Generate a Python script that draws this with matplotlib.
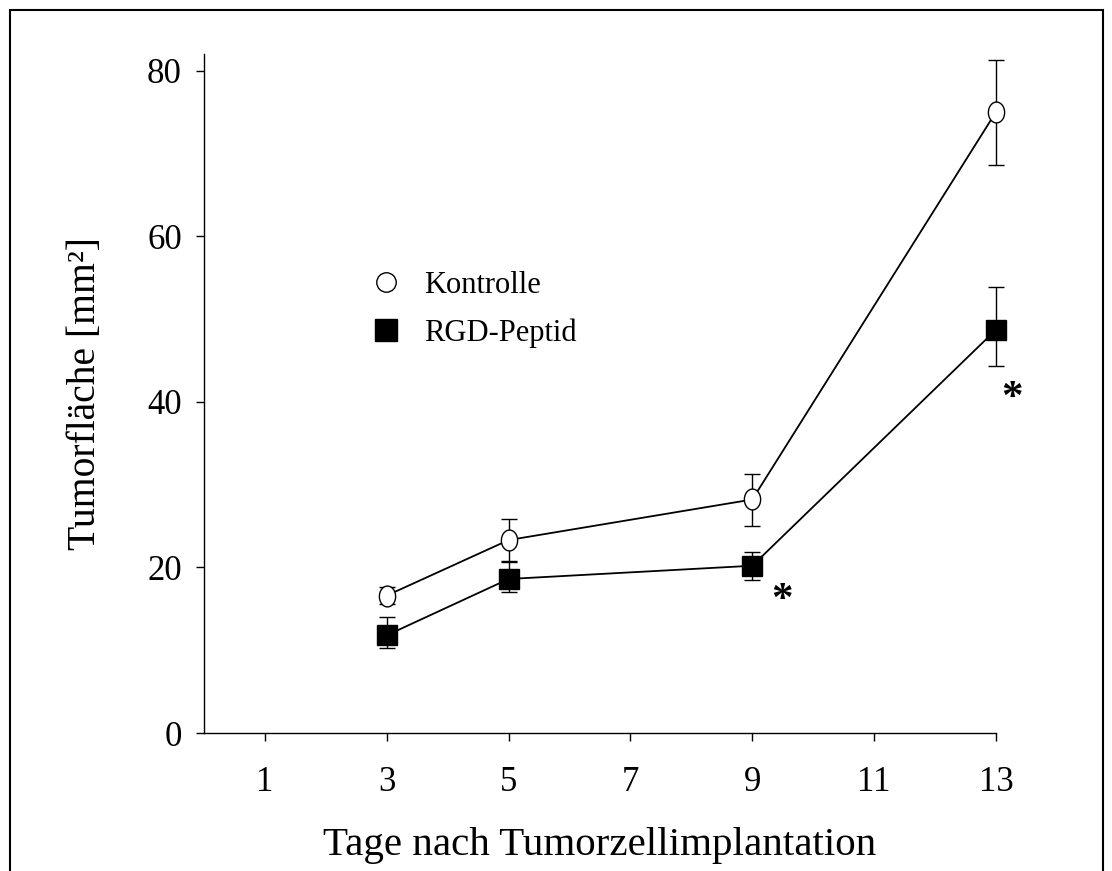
import numpy as np
import matplotlib
matplotlib.use("Agg")
import matplotlib.pyplot as plt
from matplotlib.lines import Line2D
from matplotlib.patches import Rectangle
from matplotlib.path import Path

plt.rcParams['font.family'] = ['Liberation Serif', 'DejaVu Serif']

# days after implantation
days = [3, 5, 9, 13]

# Kontrolle: mean and error bars (lower / upper)
kontrolle = [16.6, 23.3, 28.2, 75.0]
kontrolle_err_lo = [1.0, 2.5, 3.2, 6.4]
kontrolle_err_hi = [1.0, 2.6, 3.1, 6.3]

# RGD-Peptid
rgd = [11.8, 18.6, 20.2, 48.7]
rgd_err_lo = [1.5, 1.6, 1.7, 4.4]
rgd_err_hi = [2.2, 2.0, 1.7, 5.2]

# significance markers
star_x = [9.49, 13.27]
star_y = [15.9, 40.3]

xticks = [1, 3, 5, 7, 9, 11, 13]
yticks = [0, 20, 40, 60, 80]

fig = plt.figure(figsize=(11.12, 8.71), dpi=100)
ax = fig.add_axes([204 / 1112, 1 - 733 / 871, (996 - 204) / 1112, (733 - 54) / 871])

# slightly tall ellipse marker for Kontrolle
t = np.linspace(0, 2 * np.pi, 60)
ellipse = Path(np.column_stack([0.78 * np.cos(t), np.sin(t)]), closed=True)

ax.errorbar(days, kontrolle, yerr=[kontrolle_err_lo, kontrolle_err_hi],
            color='black', lw=1.3, elinewidth=1.0, capsize=5.5, capthick=1.0,
            marker=ellipse, markersize=15, markerfacecolor='white',
            markeredgecolor='black', markeredgewidth=1.0, clip_on=False, zorder=3)
ax.errorbar(days, rgd, yerr=[rgd_err_lo, rgd_err_hi],
            color='black', lw=1.3, elinewidth=1.0, capsize=5.5, capthick=1.0,
            marker='s', markersize=14.5, markerfacecolor='black',
            markeredgecolor='black', clip_on=False, zorder=3)

for sx, sy in zip(star_x, star_y):
    ax.text(sx, sy, '*', fontsize=31, fontweight='bold', ha='center', va='center')

ax.set_xlim(0, 13)
ax.set_ylim(0, 82)
ax.set_xticks(xticks)
ax.set_yticks(yticks)
ax.spines['top'].set_visible(False)
ax.spines['right'].set_visible(False)
for s in ['left', 'bottom']:
    ax.spines[s].set_linewidth(1.0)
ax.tick_params(axis='both', direction='out', length=6, width=1.0, labelsize=25)
ax.tick_params(axis='x', pad=18)
ax.tick_params(axis='y', pad=10)

ax.set_xlabel('Tage nach Tumorzellimplantation', fontsize=29.5, labelpad=20)
ax.set_ylabel('Tumorfläche [mm²]', fontsize=28.5, labelpad=31)

handles = [
    Line2D([], [], ls='none', marker='o', markersize=14, markerfacecolor='white',
           markeredgecolor='black', markeredgewidth=1.0),
    Line2D([], [], ls='none', marker='s', markersize=15.5, markerfacecolor='black',
           markeredgecolor='black'),
]
ax.legend(handles, ['Kontrolle', 'RGD-Peptid'], loc='upper left',
          bbox_to_anchor=(374 / 1112, 1 - 271 / 871), bbox_transform=fig.transFigure,
          frameon=False, fontsize=22, handlelength=0.8, handletextpad=0.85,
          labelspacing=0.6, borderpad=0, borderaxespad=0)

# outer frame around the figure
fig.patches.append(Rectangle((10 / 1112, -0.05), (1103 - 10) / 1112, 1.05 - 10 / 871,
                             transform=fig.transFigure, fill=False,
                             edgecolor='black', linewidth=1.5))

fig.savefig('out.png', dpi=100)
